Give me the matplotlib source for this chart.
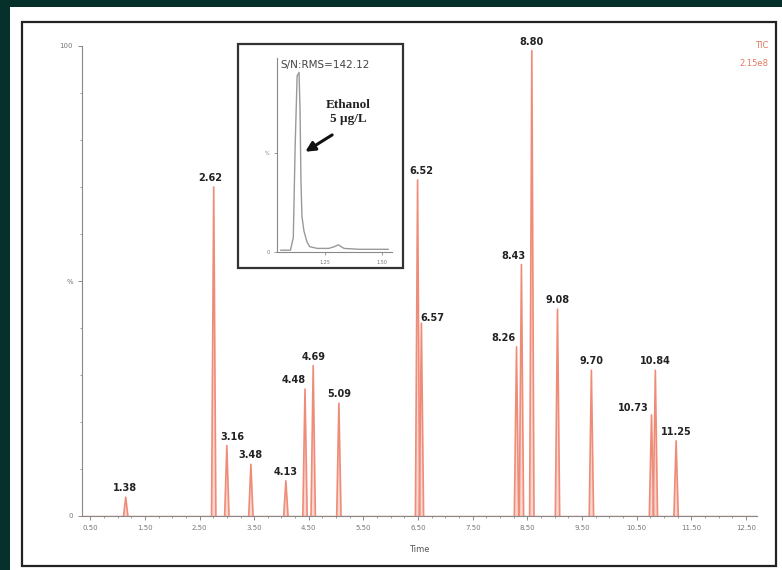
import matplotlib.pyplot as plt
import numpy as np
from matplotlib.patches import Rectangle

# main chromatogram: retention times (min), heights (%), printed labels
peak_rt = [1.15, 2.76, 3.00, 3.44, 4.08, 4.43, 4.58, 5.05, 6.49, 6.56,
           8.30, 8.39, 8.58, 9.05, 9.67, 10.77, 10.84, 11.22]
peak_h = [4, 70, 15, 11, 7.5, 27, 32, 24, 71.5, 41,
          36, 53.5, 99, 44, 31, 21.5, 31, 16]
peak_lbl = ['1.38', '2.62', '3.16', '3.48', '4.13', '4.48', '4.69', '5.09', '6.52', '6.57',
            '8.26', '8.43', '8.80', '9.08', '9.70', '10.73', '10.84', '11.25']

x_ticks = [0.50, 1.50, 2.50, 3.50, 4.50, 5.50, 6.50, 7.50, 8.50, 9.50, 10.50, 11.50, 12.50]
x_tick_lbl = ['0.50', '1.50', '2.50', '3.50', '4.50', '5.50', '6.50', '7.50', '8.50',
              '9.50', '10.50', '11.50', '12.50']

# inset: ethanol 5 ug/L trace
ins_t = [1.02, 1.07, 1.085, 1.095, 1.105, 1.115, 1.12, 1.125, 1.13, 1.14,
         1.155, 1.17, 1.21, 1.27, 1.30, 1.32, 1.35, 1.43, 1.58]
ins_y = [1, 1, 8, 60, 98, 100, 80, 40, 20, 12,
         6, 3, 2, 2, 3, 4, 2, 1.5, 1.5]

W, H = 782, 570
fig = plt.figure(figsize=(W / 100, H / 100), dpi=100)
fig.patch.set_facecolor('#06302a')

def fx(px):
    return px / W

def fy(py):
    return 1 - py / H

# white panel and black frame
fig.patches.append(Rectangle((fx(10), 0), fx(W - 10), fy(7), transform=fig.transFigure,
                             facecolor='white', edgecolor='none', zorder=-10))
fig.patches.append(Rectangle((fx(22), fy(566)), fx(776 - 22), fy(22) - fy(566),
                             transform=fig.transFigure, facecolor='none',
                             edgecolor='#222222', linewidth=1.6, zorder=1))

peak_col = '#ef8c78'
ax = fig.add_axes([fx(82), fy(516), fx(757 - 82), fy(46) - fy(516)], zorder=0)
ax.set_facecolor('none')
w = 0.04
for rt, h in zip(peak_rt, peak_h):
    ax.fill([rt - w, rt, rt + w], [0, h, 0], color=peak_col, alpha=0.35, lw=0)
    ax.plot([rt - w, rt, rt + w], [0, h, 0], color=peak_col, lw=1.2)
ax.axhline(0, color=peak_col, lw=1.0)

offs = {'4.48': (-11, 0), '6.57': (11, -4), '8.26': (-13, 0), '8.43': (-8, 0),
        '10.73': (-18, -2), '3.16': (6, 0), '1.38': (-1, 0), '2.62': (-3, 0), '6.52': (4, 0)}
for rt, h, lb in zip(peak_rt, peak_h, peak_lbl):
    dx, dy = offs.get(lb, (0, 0))
    ax.annotate(lb, (rt, h), xytext=(dx, 9 + dy), textcoords='offset pixels',
                ha='center', va='center', fontsize=7, fontweight='bold', color='#222222')

ax.set_xlim(0.35, 12.7)
ax.set_ylim(0, 100)
ax.set_xticks(x_ticks)
ax.set_xticklabels(x_tick_lbl)
ax.set_xticks(np.arange(0.5, 12.6, 0.25), minor=True)
ax.set_yticks([0, 50, 100])
ax.set_yticklabels(['0', '%', '100'])
ax.set_yticks(np.arange(0, 101, 10), minor=True)
ax.tick_params(labelsize=5, colors='#777777', length=3, width=0.6)
ax.tick_params(which='minor', length=1.5, width=0.5, colors='#777777')
for s in ['top', 'right']:
    ax.spines[s].set_visible(False)
ax.spines['left'].set_color('#888888')
ax.spines['bottom'].set_color('#888888')
ax.set_xlabel('Time', fontsize=6, color='#555555', labelpad=10)

fig.text(fx(768), fy(45), 'TIC', ha='right', va='center', fontsize=6, color='#e07a62')
fig.text(fx(768), fy(63), '2.15e8', ha='right', va='center', fontsize=6, color='#e07a62')

# inset
fig.patches.append(Rectangle((fx(238), fy(268)), fx(403 - 238), fy(44) - fy(268),
                             transform=fig.transFigure, facecolor='white',
                             edgecolor='#333333', linewidth=1.6, zorder=2))
ia = fig.add_axes([fx(277), fy(252), fx(392 - 277), fy(58) - fy(252)], zorder=3)
ia.set_facecolor('none')
ia.plot(ins_t, ins_y, color='#999999', lw=1.0)
ia.set_xlim(1.0, 1.6)
ia.set_ylim(0, 108)
ia.set_yticks([0, 55])
ia.set_yticklabels(['0', '%'])
ia.set_xticks([1.25, 1.55])
ia.set_xticklabels(['1.25', '1.50'])
ia.tick_params(labelsize=3.5, colors='#777777', length=2, width=0.5)
for s in ['top', 'right']:
    ia.spines[s].set_visible(False)
ia.spines['left'].set_color('#888888')
ia.spines['bottom'].set_color('#888888')
ia.text(1.02, 104, 'S/N:RMS=142.12', fontsize=7.5, color='#444444', va='center')
ia.text(1.37, 78, 'Ethanol\n5 \u00b5g/L', fontsize=9.5, fontweight='bold', family='Liberation Serif',
        ha='center', va='center', color='#222222', linespacing=1.3)
ia.annotate('', xy=(1.135, 55), xytext=(1.3, 66),
            arrowprops=dict(arrowstyle='-|>', color='#111111', lw=2.2, mutation_scale=14))

fig.savefig('out.png', dpi=100, facecolor=fig.get_facecolor())
